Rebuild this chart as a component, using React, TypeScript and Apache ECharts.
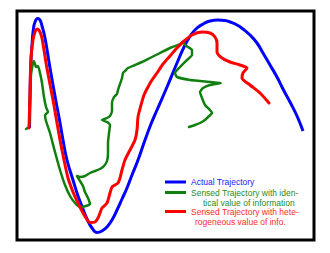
import React, { useEffect, useRef } from "react";
import * as echarts from "echarts";

// Series names
const seriesNames = [
  "Actual Trajectory",
  "Sensed Trajectory with identical value of information",
  "Sensed Trajectory with heterogeneous value of info.",
];

// Actual trajectory [x, y]
const actualTrajectory: number[][] = [
  [12.5, 112], [13, 140], [13.5, 165], [14, 180], [15, 195], [16.3, 210], [18, 218],
  [20.7, 221.5], [23, 220], [25, 214], [28, 202], [32.5, 175], [38.7, 140], [42.5, 120],
  [46, 100], [50, 80], [56, 60], [61, 44], [66, 31], [70, 21], [75, 12], [80, 7.5],
  [85, 9], [90, 13], [95, 20], [100, 30], [105, 41], [110, 52], [115, 65], [121, 80],
  [128, 100], [134, 116], [140, 130], [150, 153], [160, 177], [168, 195], [174, 205],
  [180, 212], [187, 216.5], [193, 219], [201, 220], [208, 219.5], [213, 218], [220, 215],
  [226, 211], [233, 205], [240, 197], [246, 187], [253, 175], [260, 163], [266, 151],
  [273, 138], [280, 124], [286, 109],
];

// Sensed trajectory, identical value of information
const sensedIdentical: number[][] = [
  [9, 111], [12, 113], [13, 140], [14, 165], [16, 177], [17, 179], [19, 173], [21, 174],
  [23, 167], [25, 157], [27, 143], [29, 133], [31, 128], [28, 125], [29, 119], [33, 107],
  [38, 88], [43, 70], [48, 55], [53, 44], [58, 37], [63, 33], [69, 34], [73, 36], [71, 42],
  [68, 48], [66, 54], [63, 59], [60, 64], [63, 63], [68, 64], [73, 67], [78, 69], [83, 71],
  [87, 74], [90, 79], [91, 87], [91, 97], [92, 107], [93, 115], [90, 118], [85, 120],
  [90, 122], [93, 124], [95, 129], [95, 137], [97, 143], [100, 146], [101, 150], [103, 156],
  [105, 162], [106, 167], [108, 169], [111, 172], [118, 175], [125, 178], [133, 182],
  [143, 187], [153, 192], [163, 196], [167, 199], [168, 195], [175, 190], [175, 185],
  [170, 180], [163, 173], [158, 167], [160, 163], [173, 160], [183, 159], [193, 158],
  [204, 157], [193, 155], [186, 152], [183, 148], [185, 142], [188, 135], [193, 130],
  [195, 127], [191, 123], [188, 120], [183, 117], [178, 115], [172, 113],
];

// Sensed trajectory, heterogeneous value of information
const sensedHeterogeneous: number[][] = [
  [12, 112], [12.5, 130], [13, 150], [13.5, 170], [14.5, 188], [16, 200], [18, 208],
  [20.3, 211], [22.5, 209], [24.7, 203], [27, 190], [29.7, 173], [36, 140], [39.5, 120],
  [43, 100], [47, 80], [51, 62], [56, 48], [60, 39], [65, 29], [69, 22], [73, 17.5],
  [78, 18], [81, 22], [83, 27], [85, 32], [90, 37], [93, 47], [95, 53], [98, 55], [101, 57],
  [103, 62], [105, 70], [108, 80], [113, 90], [118, 100], [120, 110], [121, 123], [124, 135],
  [127, 145], [131, 153], [135, 160], [140, 167], [146, 176], [153, 184], [159, 191],
  [166, 198], [175, 205], [185, 208], [193, 207], [198, 203], [200, 197], [200, 188],
  [205, 182], [213, 178], [223, 175], [230, 172], [226, 167], [225, 162], [233, 155],
  [243, 147], [252, 137],
];

// Legend text lines
const legendLines = [
  ["Actual Trajectory"],
  ["Sensed Trajectory with iden-", "tical value of information"],
  ["Sensed Trajectory with hete-", "rogeneous value of info."],
];

const lineColors = ["#0000ff", "#0f800f", "#ff0000"];
const textColors = ["#1a1aff", "#1f8a1f", "#ff2a2a"];

export default function App() {
  const ref = useRef<HTMLDivElement>(null);

  useEffect(() => {
    if (!ref.current) return;
    const chart = echarts.init(ref.current, undefined, { renderer: "svg" });
    const font = "Liberation Sans, Arial, Helvetica, sans-serif";
    const legendRows = [182, 192.5, 211.5];
    const secondLineX = [0, 203, 195];
    const graphics: any[] = [];
    legendLines.forEach((lines, i) => {
      graphics.push({
        type: "line",
        shape: { x1: 165, y1: legendRows[i], x2: 186, y2: legendRows[i] },
        style: { stroke: lineColors[i], lineWidth: 3 },
      });
      graphics.push({
        type: "text",
        x: 191,
        y: legendRows[i],
        style: {
          text: lines[0],
          fill: textColors[i],
          font: `8.5px ${font}`,
          textVerticalAlign: "middle",
        },
      });
      if (lines[1]) {
        graphics.push({
          type: "text",
          x: secondLineX[i],
          y: legendRows[i] + 10.5,
          style: {
            text: lines[1],
            fill: textColors[i],
            font: `8.5px ${font}`,
            textVerticalAlign: "middle",
          },
        });
      }
    });

    chart.setOption({
      animation: false,
      backgroundColor: "#ffffff",
      grid: {
        left: 17,
        top: 11,
        width: 297,
        height: 229,
        show: true,
        borderColor: "#000000",
        borderWidth: 3,
      },
      xAxis: { type: "value", min: 0, max: 297, show: false },
      yAxis: { type: "value", min: 0, max: 229, show: false },
      series: [
        {
          name: seriesNames[0],
          type: "line",
          data: actualTrajectory,
          showSymbol: false,
          smooth: 0.5,
          lineStyle: { color: lineColors[0], width: 3, join: "round" },
        },
        {
          name: seriesNames[1],
          type: "line",
          data: sensedIdentical,
          showSymbol: false,
          smooth: 0.15,
          lineStyle: { color: lineColors[1], width: 2.5, join: "round", cap: "round" },
        },
        {
          name: seriesNames[2],
          type: "line",
          data: sensedHeterogeneous,
          showSymbol: false,
          smooth: 0.25,
          lineStyle: { color: lineColors[2], width: 3, join: "round", cap: "round" },
        },
      ],
      graphic: graphics,
    });
    return () => chart.dispose();
  }, []);

  return (
    <div
      ref={ref}
      style={{ position: "fixed", left: 0, top: 0, width: 330, height: 253 }}
    />
  );
}
